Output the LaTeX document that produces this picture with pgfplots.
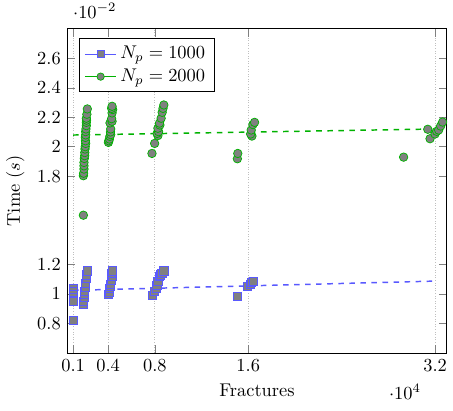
\documentclass[border=0pt]{standalone}
\usepackage{pgfplots}
\pgfplotsset{compat=1.18}

\colorlet{npone}{blue!65}
\colorlet{nptwo}{green!70!black}

\begin{document}
\begin{tikzpicture}
\begin{axis}[
  scale only axis,
  width=206pt,
  height=176pt,
  xmin=500, xmax=33000,
  ymin=0.006, ymax=0.028,
  xtick={1000,4000,8000,16000,32000},
  ytick={0.008,0.01,0.012,0.018,0.02,0.022,0.024,0.026},
  xmajorgrids,
  major grid style={densely dotted, gray!50},
  xlabel={Fractures},
  ylabel={Time ($s$)},
  every x tick scale label/.style={at={(xticklabel cs:0.89)}, anchor=near xticklabel},
  legend pos=north west,
  legend cell align=left,
]
\addlegendimage{npone, mark=square*, mark options={fill=gray, draw=npone}}
\addlegendentry{$N_p=1000$}
\addlegendimage{nptwo, mark=*, mark options={fill=gray, draw=nptwo}}
\addlegendentry{$N_p=2000$}

% N_p = 1000
\addplot[only marks, mark=square*, mark size=2.2pt,
  mark options={fill=gray, draw=npone}, forget plot] coordinates {
  (1000,0.0104) (1000,0.0102) (1000,0.0100) (1000,0.0098) (1000,0.0096) (1000,0.0095) (1000,0.0082)
  (1881,0.0093) (1900,0.0095) (1966,0.00975) (1991,0.00997) (2000,0.0102) (2051,0.01044)
  (2070,0.0107) (2102,0.01105) (2130,0.0113) (2186,0.01157)
  (4051,0.00997) (4085,0.01014) (4136,0.01036) (4160,0.0105) (4195,0.01066) (4250,0.0109)
  (4339,0.01123) (4300,0.0114) (4364,0.01157)
  (7754,0.0099) (7983,0.01021) (8100,0.0104) (8178,0.01059) (8263,0.01088) (8407,0.01118)
  (8500,0.0113) (8602,0.0114) (8771,0.01157)
  (15102,0.00984) (15949,0.01055) (16170,0.01066) (16300,0.0108) (16458,0.01088)
};

% N_p = 2000
\addplot[only marks, mark=*, mark size=2.3pt,
  mark options={fill=gray, draw=nptwo}, forget plot] coordinates {
  (1881,0.01535)
  (1881,0.01803) (1900,0.0182) (1932,0.01848) (1932,0.0187) (1932,0.01893) (1960,0.0192)
  (1991,0.01939) (2000,0.0196) (2020,0.01984) (2040,0.0200) (2076,0.02022) (2060,0.0204)
  (2051,0.02063) (2080,0.0208) (2076,0.02102) (2100,0.0212) (2136,0.02143) (2136,0.02165)
  (2150,0.0218) (2136,0.02193) (2180,0.0222) (2220,0.02256)
  (4025,0.02029) (4060,0.0204) (4110,0.02052) (4150,0.0207) (4220,0.02082) (4200,0.021)
  (4220,0.0212) (4160,0.02161) (4339,0.02172) (4300,0.0219) (4339,0.02229) (4390,0.02252)
  (4300,0.0226) (4339,0.02274)
  (7754,0.01954) (7983,0.02022) (8263,0.02075) (8200,0.0209) (8322,0.02102) (8263,0.02125)
  (8432,0.02147) (8400,0.0216) (8542,0.02193) (8627,0.02233) (8700,0.0226) (8771,0.02283)
  (15068,0.01918) (15102,0.01954)
  (16314,0.02072) (16203,0.02086) (16254,0.02113) (16400,0.0215) (16542,0.02165)
  (29305,0.01929)
  (31373,0.02118) (31568,0.02054) (31992,0.02086) (32136,0.02104) (32305,0.02113)
  (32475,0.0214) (32644,0.02167)
};

% linear fits
\addplot[npone, thick, dashed, forget plot] coordinates {(1000,0.01025) (32000,0.01088)};
\addplot[nptwo, thick, dashed, forget plot] coordinates {(1000,0.02079) (32000,0.0212)};
\end{axis}
\path ([yshift=2pt]current bounding box.north) ++(0,0);
\path ([yshift=-3pt]current bounding box.south) ++(0,0);
\end{tikzpicture}
\end{document}
